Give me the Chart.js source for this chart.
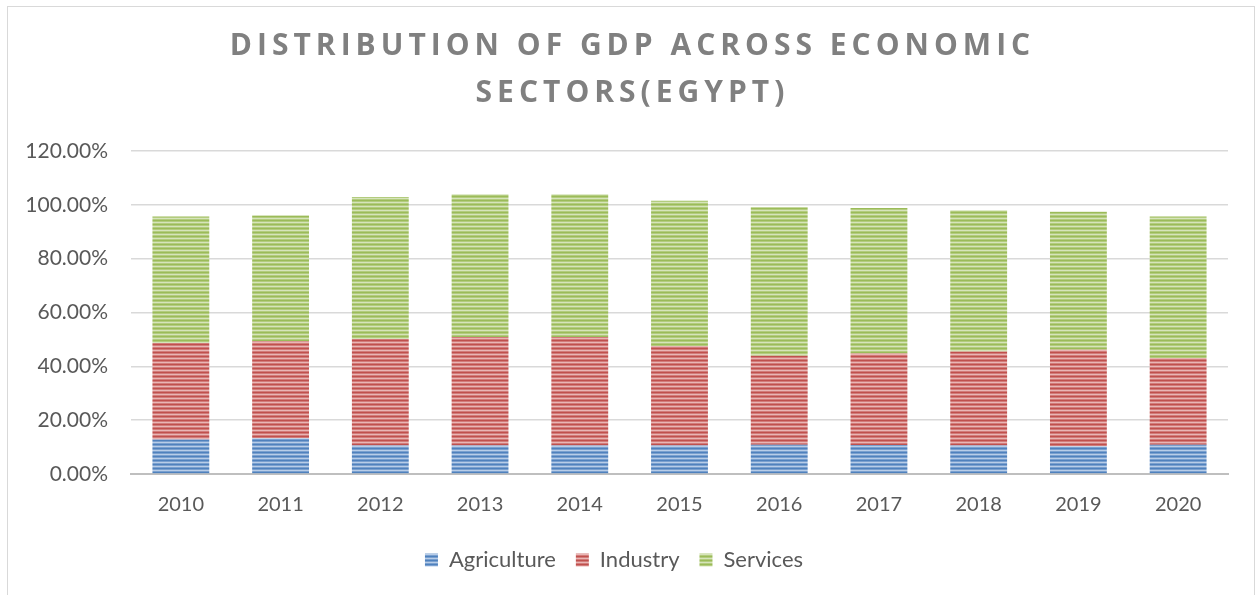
<!DOCTYPE html>
<html>
<head>
<meta charset="utf-8">
<script src="https://cdn.jsdelivr.net/npm/chart.js@4"></script>
<style>
  html, body { margin: 0; padding: 0; background: #fff; }
  #wrap { position: relative; width: 1258px; height: 595px; overflow: hidden; }
  #frame { position: absolute; left: 7px; top: 6px; width: 1248px; height: 600px; border: 1px solid #d9d9d9; box-sizing: border-box; }
  #title {
    position: absolute; left: 0; top: 20px; width: 1265px; text-align: center;
    font-family: "Open Sans", sans-serif; font-weight: bold; font-size: 30px;
    line-height: 47px; letter-spacing: 5px; color: #808080;
  }
  canvas { position: absolute; left: 0; top: 0; }
</style>
</head>
<body>
<div id="wrap">
  <div id="frame"></div>
  <canvas id="chart" width="1258" height="595"></canvas>
  <div id="title">DISTRIBUTION OF GDP ACROSS ECONOMIC<br>SECTORS(EGYPT)</div>
</div>
<script>
const years = ["2010", "2011", "2012", "2013", "2014", "2015", "2016", "2017", "2018", "2019", "2020"];
const agriculture = [0.128, 0.133, 0.106, 0.106, 0.106, 0.106, 0.109, 0.108, 0.106, 0.103, 0.109];
const industry = [0.359, 0.360, 0.396, 0.403, 0.403, 0.370, 0.330, 0.340, 0.349, 0.359, 0.322];
const services = [0.470, 0.467, 0.527, 0.530, 0.530, 0.539, 0.552, 0.540, 0.525, 0.512, 0.526];

// horizontal stripe fill like the office "narrow horizontal" pattern
function stripes(dark, mid, light) {
    const c = document.createElement("canvas");
    c.width = 4;
    c.height = 4;
    const g = c.getContext("2d");
    const rows = [dark, mid, light, mid];
    rows.forEach((col, i) => {
        g.fillStyle = col;
        g.fillRect(0, i, 4, 1);
    });
    return g.createPattern(c, "repeat");
}

const ctx = document.getElementById("chart").getContext("2d");
const blue = stripes("#4f81bd", "#7aa0cf", "#b8cde8");
const red = stripes("#c0504d", "#d27c7a", "#e9b6b5");
const green = stripes("#9bbb59", "#b3cc7e", "#d6e4bb");

Chart.defaults.font.family = "Lato, 'Open Sans', sans-serif";
Chart.defaults.color = "#595959";

new Chart(ctx, {
    type: "bar",
    data: {
        labels: years,
        datasets: [
            { label: "Agriculture", data: agriculture, backgroundColor: blue },
            { label: "Industry", data: industry, backgroundColor: red },
            { label: "Services", data: services, backgroundColor: green },
        ],
    },
    options: {
        responsive: false,
        animation: false,
        datasets: { bar: { categoryPercentage: 1, barPercentage: 0.57 } },
        layout: { padding: { left: 0, right: 30, top: 151, bottom: 14 } },
        scales: {
            x: {
                stacked: true,
                grid: { display: false },
                border: { color: "#bfbfbf", width: 2 },
                ticks: { font: { size: 20 }, padding: 11 },
                afterFit: (axis) => { axis.height = 55; },
            },
            y: {
                stacked: true,
                min: 0,
                max: 1.2,
                ticks: {
                    stepSize: 0.2,
                    font: { size: 21 },
                    padding: 23,
                    callback: (v) => (v * 100).toFixed(2) + "%",
                },
                grid: { color: "#d9d9d9", lineWidth: 1.5, drawTicks: false },
                border: { display: false },
                afterFit: (axis) => { axis.width = 131; },
            },
        },
        plugins: {
            title: { display: false },
            tooltip: { enabled: false },
            legend: {
                position: "bottom",
                labels: { boxWidth: 13, boxHeight: 13, padding: 20, font: { size: 22 } },
            },
        },
    },
});
</script>
</body>
</html>
